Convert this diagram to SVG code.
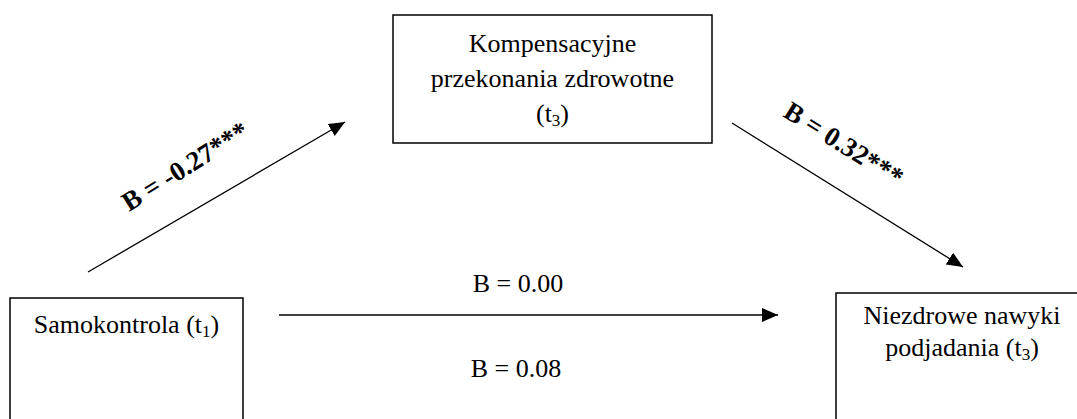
<svg xmlns="http://www.w3.org/2000/svg" width="1077" height="419" viewBox="0 0 1077 419">
<style>
.box{fill:#fff;stroke:#000;stroke-width:1.5}
.t{font-family:"Liberation Serif","Times New Roman",serif;font-size:26px;fill:#000}
.c{text-anchor:middle}
.lbl{font-family:"Liberation Serif","Times New Roman",serif;font-size:27px;font-weight:bold;fill:#000}
.sub{font-size:17px}
.conn line{stroke:#000;stroke-width:1.3;fill:none}
</style>
<defs>
<marker id="ah" markerUnits="userSpaceOnUse" markerWidth="17" markerHeight="15" refX="16" refY="7" orient="auto">
<path d="M0,0 L16,7 L0,14 Z" fill="#000"/>
</marker>
</defs>
<rect width="1077" height="419" fill="#fff"/>
<g id="node-kompensacyjne">
<rect class="box" x="393" y="15" width="319" height="128"/>
<text class="t c" x="552.5" y="52">Kompensacyjne</text>
<text class="t c" x="552.5" y="87">przekonania zdrowotne</text>
<text class="t c" x="552.5" y="122">(t<tspan class="sub" dy="4">3</tspan><tspan dy="-4">)</tspan></text>
</g>
<g id="node-samokontrola">
<rect class="box" x="10" y="298" width="233" height="140"/>
<text class="t c" x="126.5" y="333">Samokontrola (t<tspan class="sub" dy="4">1</tspan><tspan dy="-4">)</tspan></text>
</g>
<g id="node-niezdrowe">
<rect class="box" x="836" y="293" width="300" height="150"/>
<text class="t c" x="962" y="324">Niezdrowe nawyki</text>
<text class="t c" x="962" y="356">podjadania (t<tspan class="sub" dy="4">3</tspan><tspan dy="-4">)</tspan></text>
</g>
<g id="connectors" class="conn">
<line x1="88" y1="272" x2="345" y2="122" marker-end="url(#ah)"/>
<line x1="732" y1="123" x2="963" y2="267" marker-end="url(#ah)"/>
<line x1="279" y1="315" x2="778" y2="315" marker-end="url(#ah)"/>
</g>
<g id="labels">
<text class="lbl" transform="translate(129,212) rotate(-32)">B = -0.27***</text>
<text class="lbl" transform="translate(782,116) rotate(32)">B = 0.32***</text>
<text class="t c" x="518" y="292">B = 0.00</text>
<text class="t c" x="516" y="377">B = 0.08</text>
</g>
</svg>
